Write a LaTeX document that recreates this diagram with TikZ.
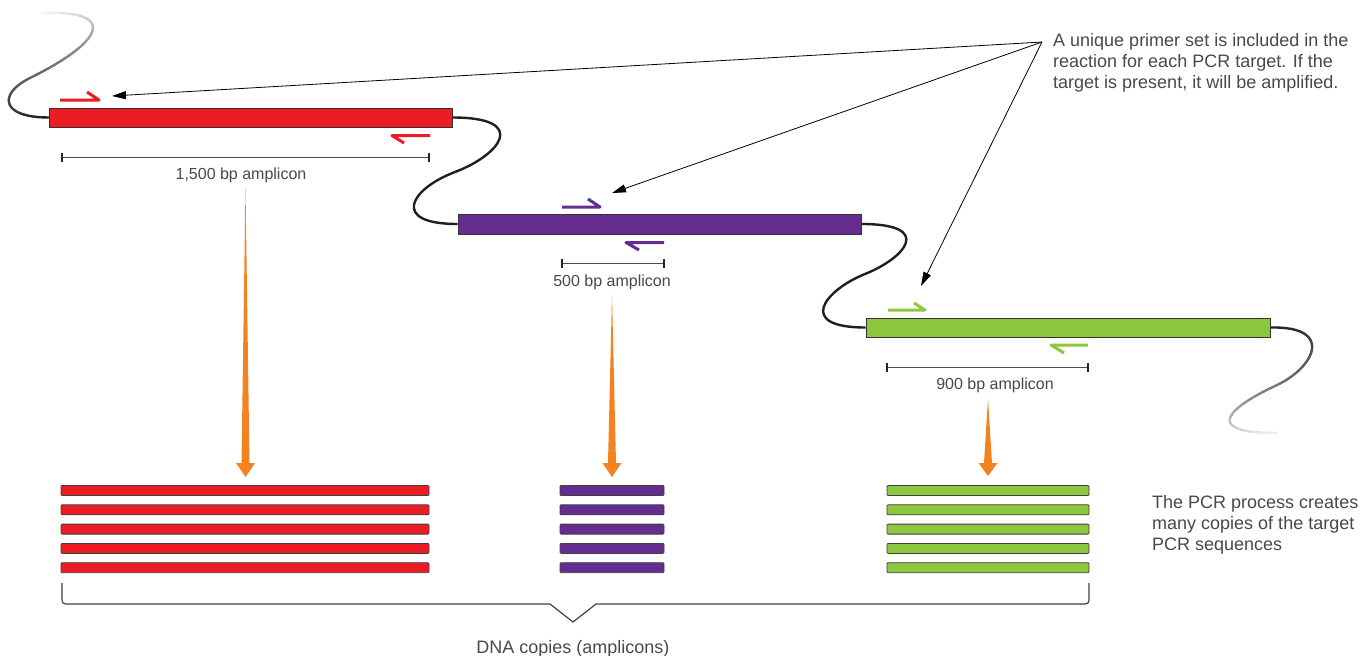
\documentclass[tikz,border=0pt]{standalone}
\usepackage{fontspec}
\setmainfont{Liberation Sans}
\usetikzlibrary{arrows.meta}
\definecolor{pcrred}{HTML}{ED1C24}
\definecolor{pcrpurple}{HTML}{662D91}
\definecolor{pcrgreen}{HTML}{8DC63F}
\definecolor{pcrorange}{HTML}{F58220}
\definecolor{txt}{HTML}{484848}
% fading cubic curve: #1 start, #2 c1, #3 c2, #4 end, #5 start black%, #6 end black%
\newcommand\fadecurve[6]{%
  \foreach \i in {0,...,24}{\path #1 .. controls #2 and #3 .. #4 node[coordinate,pos=\i/24] (fc\i) {};}%
  \foreach \i in {0,...,23}{%
    \pgfmathtruncatemacro\j{\i+1}%
    \pgfmathtruncatemacro\g{#5+(#6-#5)*(\i+0.5)/24}%
    \draw[line width=2.4pt,line cap=round,draw=black!\g] (fc\i) -- (fc\j);}%
}
% tapered orange arrow: #1 x, #2 top y, #3 neck y, #4 tip y
\newcommand\orangearrow[4]{%
  \fill[pcrorange] (#1,#2) -- (#1+4,#3) -- (#1+9.5,#3) -- (#1,#4) -- (#1-9.5,#3) -- (#1-4,#3) -- cycle;}
\begin{document}
\begin{tikzpicture}[x=1pt,y=-1pt,
  dnabar/.style={draw=black!80,line width=0.9pt,inner sep=0pt},
  strand/.style={line width=2.4pt,draw=black!88},
  primerline/.style={line width=3pt,line join=round},
  dimline/.style={line width=1pt,draw=black!70},
  dimtick/.style={line width=1.6pt,draw=black!85},
  lbl/.style={font=\fontsize{16}{19}\selectfont,text=txt,inner sep=0pt},
  note/.style={font=\fontsize{18}{21.2}\selectfont,text=txt,inner sep=0pt,align=left},
  pointer/.style={line width=0.8pt,draw=black,-{Triangle[length=14pt,width=8pt]}},
  copybar/.style={draw=black!75,line width=0.8pt,rounded corners=1pt},
  bracket/.style={line width=1.2pt,draw=black!75}]
\useasboundingbox (0,0) rectangle (1371,656);

% genomic DNA bars
\node[dnabar,fill=pcrred,minimum width=403,minimum height=19] (redbar) at (250.5,117.5) {};
\node[dnabar,fill=pcrpurple,minimum width=403,minimum height=20] (purplebar) at (659.5,224) {};
\node[dnabar,fill=pcrgreen,minimum width=404,minimum height=19] (greenbar) at (1068,327.5) {};

% connecting strands
\coordinate (k1) at (455,172);
\coordinate (k2) at (865,274);
\draw[strand] (redbar.east) .. controls (530,117.5) and (500,155) .. (k1)
  .. controls (410,189) and (390,224) .. (purplebar.west);
\draw[strand] (purplebar.east) .. controls (935,224) and (905,258) .. (k2)
  .. controls (825,290) and (795,327.5) .. (greenbar.west);

% fading tails
\fadecurve{(redbar.west)}{(0,117.5)}{(-1.5,93.4)}{(30,78)}{88}{62}
\fadecurve{(30,78)}{(105,41)}{(118,10)}{(42,13)}{62}{4}
\fadecurve{(greenbar.east)}{(1335,326)}{(1315,368)}{(1275,386)}{88}{55}
\fadecurve{(1275,386)}{(1230,407)}{(1200,433)}{(1277,433)}{55}{6}

% redraw bars on top of strand ends
\node[dnabar,fill=pcrred,minimum width=403,minimum height=19] (redbar2) at (250.5,117.5) {};
\node[dnabar,fill=pcrpurple,minimum width=403,minimum height=20] (purplebar2) at (659.5,224) {};
\node[dnabar,fill=pcrgreen,minimum width=404,minimum height=19] (greenbar2) at (1068,327.5) {};

% primers
\draw[primerline,pcrred] (60,100) -- (99,100) -- (87,92);
\draw[primerline,pcrred] (430,135.5) -- (392,135.5) -- (404,143);
\draw[primerline,pcrpurple] (562,207) -- (600,207) -- (588,199);
\draw[primerline,pcrpurple] (664,242.5) -- (626,242.5) -- (639,250);
\draw[primerline,pcrgreen] (888,310) -- (925,310) -- (914,303);
\draw[primerline,pcrgreen] (1088,345) -- (1051,345) -- (1064,353);

% amplicon spans
\draw[dimline] (62,157) -- (429,157);
\draw[dimtick] (62,152.5) -- (62,161.5);
\draw[dimtick] (429,152.5) -- (429,161.5);
\node[lbl,anchor=base] (lblred) at (241,179) {1,500 bp amplicon};
\draw[dimline] (562,263) -- (664,263);
\draw[dimtick] (562,258.5) -- (562,267.5);
\draw[dimtick] (664,258.5) -- (664,267.5);
\node[lbl,anchor=base] (lblpurple) at (612,286) {500 bp amplicon};
\draw[dimline] (887,367) -- (1088,367);
\draw[dimtick] (887,362.5) -- (887,371.5);
\draw[dimtick] (1088,362.5) -- (1088,371.5);
\node[lbl,anchor=base] (lblgreen) at (995,389) {900 bp amplicon};

% primer annotation
\node[note,anchor=north west] (note1) at (1053,33) {A unique primer set is included in the\\reaction for each PCR target. If the\\target is present, it will be amplified.};
\coordinate (src) at (1042,42);
\coordinate (tred) at (112,96);
\coordinate (tpurple) at (612,193);
\coordinate (tgreen) at (921,286);
\draw[pointer] (src) -- (tred);
\draw[pointer] (src) -- (tpurple);
\draw[pointer] (src) -- (tgreen);

% orange amplification arrows
\orangearrow{245.5}{188}{463}{477}
\orangearrow{612}{295}{463}{477}
\orangearrow{988}{399}{463}{476}

% amplicon copies
\foreach \k in {0,...,4}{
  \draw[copybar,fill=pcrred] (61,485.5+19.3*\k) rectangle (429,495.5+19.3*\k);
  \draw[copybar,fill=pcrpurple] (560,485.5+19.3*\k) rectangle (664,495.5+19.3*\k);
  \draw[copybar,fill=pcrgreen] (887,485.5+19.3*\k) rectangle (1089,495.5+19.3*\k);
}
\node[note,anchor=north west] (note2) at (1152,495) {The PCR process creates\\many copies of the target\\PCR sequences};

% bracket
\draw[bracket] (62,583) -- (62,596) .. controls (62,604) .. (70,604) -- (550,604) -- (573,622)
  -- (596,604) -- (1081,604) .. controls (1089,604) .. (1089,596) -- (1089,583);
\node[note,anchor=base] (lblcopies) at (573,653) {DNA copies (amplicons)};
\end{tikzpicture}
\end{document}
